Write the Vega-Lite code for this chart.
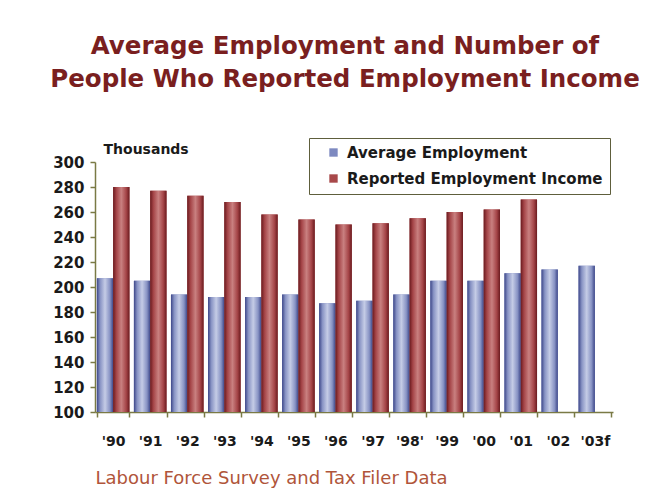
{
  "$schema": "https://vega.github.io/schema/vega-lite/v6.json",
  "width": 518,
  "height": 250,
  "padding": {"left": 50, "top": 34, "right": 10, "bottom": 10},
  "background": "white",
  "title": {
    "text": ["Average Employment and Number of", "People Who Reported Employment Income"],
    "font": "DejaVu Sans",
    "fontWeight": "bold",
    "fontSize": 24.5,
    "color": "#7a1f1f",
    "lineHeight": 33,
    "anchor": "middle",
    "dx": -9,
    "offset": 45
  },
  "data": {
    "values": [
      {"year": "'90", "series": "Average Employment", "value": 207},
      {"year": "'90", "series": "Reported Employment Income", "value": 280},
      {"year": "'91", "series": "Average Employment", "value": 205},
      {"year": "'91", "series": "Reported Employment Income", "value": 277},
      {"year": "'92", "series": "Average Employment", "value": 194},
      {"year": "'92", "series": "Reported Employment Income", "value": 273},
      {"year": "'93", "series": "Average Employment", "value": 192},
      {"year": "'93", "series": "Reported Employment Income", "value": 268},
      {"year": "'94", "series": "Average Employment", "value": 192},
      {"year": "'94", "series": "Reported Employment Income", "value": 258},
      {"year": "'95", "series": "Average Employment", "value": 194},
      {"year": "'95", "series": "Reported Employment Income", "value": 254},
      {"year": "'96", "series": "Average Employment", "value": 187},
      {"year": "'96", "series": "Reported Employment Income", "value": 250},
      {"year": "'97", "series": "Average Employment", "value": 189},
      {"year": "'97", "series": "Reported Employment Income", "value": 251},
      {"year": "'98'", "series": "Average Employment", "value": 194},
      {"year": "'98'", "series": "Reported Employment Income", "value": 255},
      {"year": "'99", "series": "Average Employment", "value": 205},
      {"year": "'99", "series": "Reported Employment Income", "value": 260},
      {"year": "'00", "series": "Average Employment", "value": 205},
      {"year": "'00", "series": "Reported Employment Income", "value": 262},
      {"year": "'01", "series": "Average Employment", "value": 211},
      {"year": "'01", "series": "Reported Employment Income", "value": 270},
      {"year": "'02", "series": "Average Employment", "value": 214},
      {"year": "'03f", "series": "Average Employment", "value": 217}
    ]
  },
  "encoding": {
    "x": {
      "field": "year",
      "type": "nominal",
      "sort": null,
      "scale": {"paddingInner": 0.12, "paddingOuter": 0.05},
      "axis": {
        "labelAngle": 0,
        "labelFont": "DejaVu Sans",
        "labelFontWeight": "bold",
        "labelFontSize": 14,
        "labelColor": "#1a1a1a",
        "labelPadding": 17,
        "tickBand": "extent",
        "tickSize": 5,
        "tickColor": "#7a7a45",
        "tickWidth": 1.5,
        "domainColor": "#7a7a45",
        "domainWidth": 1.5,
        "title": "Labour Force Survey and Tax Filer Data",
        "titleFont": "DejaVu Sans",
        "titleFontWeight": "normal",
        "titleFontSize": 18,
        "titleColor": "#b0553a",
        "titleAnchor": "start",
        "titleAlign": "left",
        "titlePadding": 21
      }
    },
    "xOffset": {
      "field": "series",
      "type": "nominal",
      "scale": {"domain": ["Average Employment", "Reported Employment Income"], "paddingInner": 0}
    },
    "y": {
      "field": "value",
      "type": "quantitative",
      "scale": {"domain": [100, 300], "zero": false, "nice": false},
      "axis": {
        "values": [100, 120, 140, 160, 180, 200, 220, 240, 260, 280, 300],
        "grid": false,
        "labelFont": "DejaVu Sans",
        "labelFontWeight": "bold",
        "labelFontSize": 15,
        "labelColor": "#1a1a1a",
        "labelPadding": 6,
        "tickSize": 5,
        "tickColor": "#7a7a45",
        "tickWidth": 1.5,
        "domainColor": "#7a7a45",
        "domainWidth": 1.5,
        "title": "Thousands",
        "titleAngle": 0,
        "titleFont": "DejaVu Sans",
        "titleFontWeight": "bold",
        "titleFontSize": 14,
        "titleColor": "#1a1a1a",
        "titleAlign": "left",
        "titleBaseline": "bottom",
        "titleX": 8,
        "titleY": -6
      }
    },
    "y2": {"datum": 100}
  },
  "layer": [
    {
      "mark": {"type": "bar"},
      "encoding": {
        "color": {
          "field": "series",
          "type": "nominal",
          "scale": {"domain": ["Average Employment", "Reported Employment Income"], "range": ["#7d89c0", "#a8484a"]},
          "legend": {
            "title": null,
            "orient": "none",
            "legendX": 214,
            "legendY": -24,
            "direction": "vertical",
            "symbolType": "square",
            "symbolSize": 70,
            "symbolStrokeWidth": 0,
            "symbolOffset": 10,
            "labelFont": "DejaVu Sans",
            "labelFontWeight": "bold",
            "labelFontSize": 15,
            "labelColor": "#1a1a1a",
            "labelLimit": 400,
            "labelOffset": 6,
            "rowPadding": 10,
            "padding": 7,
            "strokeColor": "#5e5e3c",
            "fillColor": "white"
          }
        }
      }
    },
    {
      "transform": [{"filter": "datum.series === 'Average Employment'"}],
      "mark": {
        "type": "bar",
        "fill": {
          "gradient": "linear",
          "stops": [
            {"offset": 0, "color": "#3d4789"},
            {"offset": 0.2, "color": "#8893c4"},
            {"offset": 0.5, "color": "#c5cce6"},
            {"offset": 0.8, "color": "#8893c4"},
            {"offset": 1, "color": "#3d4789"}
          ]
        }
      }
    },
    {
      "transform": [{"filter": "datum.series === 'Reported Employment Income'"}],
      "mark": {
        "type": "bar",
        "fill": {
          "gradient": "linear",
          "stops": [
            {"offset": 0, "color": "#6a1a1e"},
            {"offset": 0.2, "color": "#a54548"},
            {"offset": 0.5, "color": "#c98080"},
            {"offset": 0.8, "color": "#a54548"},
            {"offset": 1, "color": "#6a1a1e"}
          ]
        }
      }
    }
  ],
  "config": {
    "view": {"stroke": null}
  }
}
